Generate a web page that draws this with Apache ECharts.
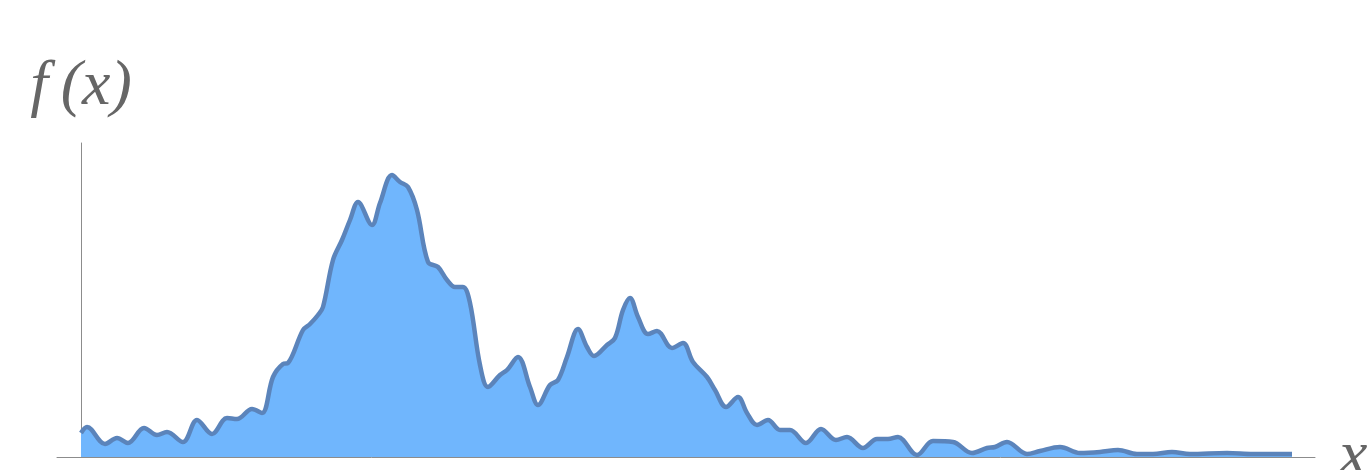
<!DOCTYPE html>
<html>
<head>
<meta charset="utf-8">
<script src="https://cdn.jsdelivr.net/npm/echarts@6/dist/echarts.min.js"></script>
<style>
  html, body { margin: 0; padding: 0; background: #fff; }
  #main { width: 1367px; height: 470px; }
</style>
</head>
<body>
<div id="main"></div>
<script>
// curve samples: x position and f(x) height
var xs = [
  0, 6, 24, 36, 47, 63, 76, 86, 102, 116,
  131, 146, 156, 171, 181, 192, 202, 207, 222, 229,
  237, 242, 252, 261, 269, 277, 291, 299, 311, 319,
  327, 336, 347, 357, 366, 374, 382, 389, 399, 407,
  419, 426, 437, 449, 457, 469, 477, 486, 497, 506,
  513, 526, 534, 542, 549, 557, 567, 576, 591, 602,
  612, 626, 634, 645, 657, 666, 676, 687, 699, 709,
  725, 740, 755, 766, 782, 796, 807, 817, 836, 852,
  872, 891, 906, 914, 926, 946, 959, 979, 999, 1019,
  1037, 1056, 1072, 1091, 1109, 1146, 1172, 1199, 1211
];
var ys = [
  24, 30, 13, 19, 14, 29, 22, 25, 15, 37,
  23, 39, 38, 48, 44, 80, 93, 94, 127, 133,
  142, 150, 197, 217, 237, 255, 232, 254, 282, 275,
  270, 247, 195, 190, 177, 170, 170, 154, 92, 70,
  82, 87, 100, 70, 52, 72, 77, 100, 128, 110,
  101, 112, 119, 147, 159, 140, 123, 126, 109, 114,
  95, 80, 67, 50, 60, 44, 32, 37, 27, 27,
  14, 28, 17, 20, 9, 18, 18, 20, 2, 16,
  15, 4, 9, 10, 15, 3, 6, 10, 4, 5,
  7, 3, 3, 5, 3, 4, 3, 3, 3
];
var pts = xs.map(function (x, i) { return [x, ys[i]]; });

var labelFont = { fontFamily: 'Liberation Serif', fontStyle: 'italic', fontSize: 64, color: '#666' };

var chart = echarts.init(document.getElementById('main'));
chart.setOption({
  animation: false,
  grid: { left: 57, right: 52, top: 143, bottom: 13, outerBoundsMode: 'none' },
  xAxis: {
    type: 'value', min: -24, max: 1234,
    name: 'x', nameLocation: 'end', nameGap: 24,
    nameTextStyle: Object.assign({ verticalAlign: 'middle' }, labelFont),
    axisLine: { lineStyle: { color: '#8c8c8c', width: 1 } },
    axisTick: { show: false }, axisLabel: { show: false }, splitLine: { show: false }
  },
  yAxis: {
    type: 'value', min: 0, max: 314,
    name: 'f\u2009(x)', nameLocation: 'end', nameGap: 24,
    nameTextStyle: labelFont,
    axisLine: { show: true, onZero: true, lineStyle: { color: '#8c8c8c', width: 1 } },
    axisTick: { show: false }, axisLabel: { show: false }, splitLine: { show: false }
  },
  series: [{
    type: 'line',
    data: pts,
    smooth: 0.35,
    showSymbol: false,
    lineStyle: { color: '#5b84bb', width: 4.5 },
    areaStyle: { color: '#70b6fd', opacity: 1 }
  }]
});
</script>
</body>
</html>
